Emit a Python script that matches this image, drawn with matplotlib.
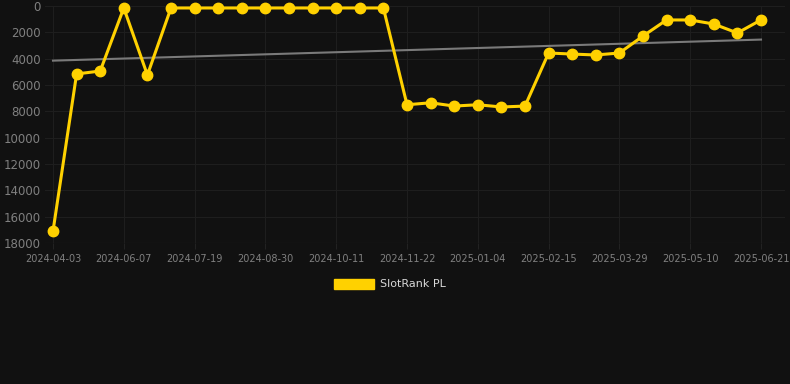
import matplotlib
matplotlib.use("Agg")
import matplotlib.pyplot as plt
from matplotlib.patches import Patch

# Data
tick_labels = ["2024-04-03", "2024-06-07", "2024-07-19", "2024-08-30", "2024-10-11",
               "2024-11-22", "2025-01-04", "2025-02-15", "2025-03-29", "2025-05-10",
               "2025-06-21"]
ranks = [17100, 5160, 4940, 150, 5240, 150, 150, 150, 150, 150,
         150, 150, 150, 150, 150, 7500, 7350, 7600, 7500, 7670,
         7600, 3570, 3650, 3720, 3570, 2280, 1060, 1060, 1370, 2050, 1060]
trend_values = [4150, 2550]
series_name = "SlotRank PL"

BG = "#111111"
GOLD = "#FFD100"
GRID = "#1e1e1e"
TXT = "#808080"

fig = plt.figure(figsize=(7.9, 3.84), dpi=100, facecolor=BG)
W, H = 790, 384
ax = fig.add_axes([45 / W, (H - 243) / H, (785 - 45) / W, 237 / H])
ax.set_facecolor(BG)

n = len(ranks)
xs = list(range(n))
ax.plot([0, n - 1], trend_values, color="#7a7a7a", lw=1.5, zorder=2)
ax.plot(xs, ranks, color=GOLD, lw=2.2, marker="o", markersize=7.5,
        markeredgecolor=GOLD, markerfacecolor=GOLD, zorder=3, clip_on=False)

ax.set_ylim(18000, 0)
ax.set_xlim(-8 / 23.6, 30 + 24 / 23.6)
ax.set_yticks(range(0, 18001, 2000))
ax.set_yticklabels([str(v) for v in range(0, 18001, 2000)])
tick_pos = list(range(0, n, 3))
ax.set_xticks(tick_pos)
ax.set_xticklabels(tick_labels)

ax.grid(True, color=GRID, lw=0.8)
ax.axhline(18000, color="#2a2a2a", lw=0.8, zorder=1)
ax.set_axisbelow(True)
for s in ax.spines.values():
    s.set_visible(False)
ax.tick_params(axis="y", colors=TXT, labelsize=8.5, length=0, pad=3)
ax.tick_params(axis="x", colors=TXT, labelsize=7, length=4, color="#222222", pad=4)
for lab in ax.get_yticklabels() + ax.get_xticklabels():
    lab.set_color(TXT)

leg = fig.legend(handles=[Patch(facecolor=GOLD, edgecolor=GOLD, label=series_name)],
                 loc="center", bbox_to_anchor=(390 / W, 1 - 284 / H),
                 frameon=False, fontsize=8, handlelength=3.6, handleheight=1.0,
                 handletextpad=0.6)
for t in leg.get_texts():
    t.set_color("#d8d8d8")

fig.savefig("out.png", dpi=100, facecolor=BG)
